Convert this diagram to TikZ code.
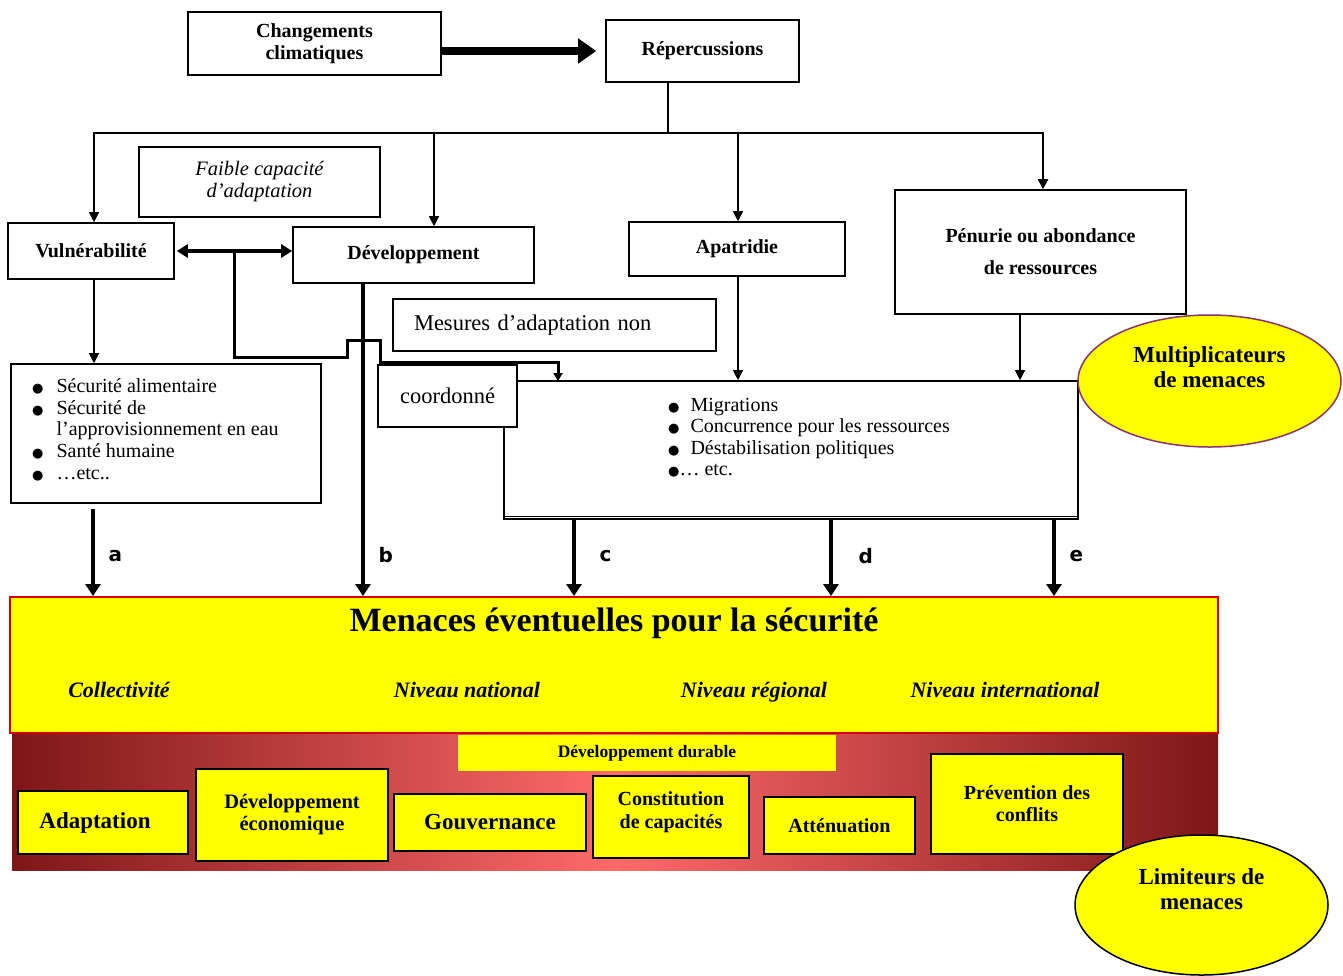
\documentclass[tikz,border=0pt]{standalone}
\usepackage{fontspec}
\setmainfont{Liberation Serif}
\newfontfamily\lblfont{DejaVu Sans}
\newfontfamily\symfont{DejaVu Sans}
\usetikzlibrary{arrows.meta,shapes.geometric,calc}
\definecolor{jaune}{RGB}{255,255,0}
\definecolor{rougefonce}{RGB}{126,22,24}
\definecolor{rougeclair}{RGB}{255,106,106}
\definecolor{violet}{RGB}{140,50,110}
\definecolor{rougebord}{RGB}{215,0,0}
\newcommand{\puce}{{\symfont\fontsize{13}{13}\selectfont ●}}

\begin{document}
\begin{tikzpicture}[
        x=1pt, y=-1pt,
        box/.style={draw, line width=1.6pt, fill=white, align=center, inner sep=0pt,
            font=\bfseries\fontsize{20}{22}\selectfont},
        plain/.style={box, font=\fontsize{22.5}{26}\selectfont},
        list/.style={align=left, inner sep=0pt, font=\fontsize{20}{21.75}\selectfont},
        limbox/.style={draw, line width=2pt, fill=jaune, align=center, inner sep=0pt,
            font=\bfseries\fontsize{20}{23}\selectfont},
        bulle/.style={ellipse, fill=jaune, line width=1.5pt, align=center, inner sep=0pt,
            font=\bfseries\fontsize{23}{25}\selectfont},
        niveau/.style={anchor=base, font=\bfseries\itshape\fontsize{22}{24}\selectfont},
        fin/.style={line width=1.2pt, -{Triangle[length=10pt,width=10pt]}},
        gros/.style={line width=4.5pt, -{Triangle[length=12pt,width=15pt]}},
        lettre/.style={font=\lblfont\bfseries\fontsize{20}{20}\selectfont},
    ]
    \useasboundingbox (0,0) rectangle (1343,975);

    % top part
    \node[box, minimum width=253pt, minimum height=63pt] (clim) at (314.5,43.5) {Changements\\climatiques};
    \node[box, minimum width=193pt, minimum height=62pt] (reperc) at (702.5,51) {Répercussions};
    \node[box, font=\itshape\fontsize{20.5}{22}\selectfont, minimum width=241pt, minimum height=70pt] (faible) at (259.5,182) {Faible capacité\\d’adaptation};
    \node[box, minimum width=166pt, minimum height=56pt] (vuln) at (91,251) {Vulnérabilité};
    \node[box, minimum width=241pt, minimum height=56pt] (devel) at (413.5,255) {Développement};
    \node[box, minimum width=216pt, minimum height=54pt] (apat) at (737,249) {Apatridie};
    \node[box, minimum width=291pt, minimum height=124pt] (penurie) at (1040.5,252) {Pénurie ou abondance\\[10pt]de ressources};

    \draw[line width=7.5pt, -{Triangle[length=18pt,width=24pt]}] (clim.east |- reperc.west) -- ([xshift=-9pt]reperc.west);

    \coordinate (hub) at (668,133);
    \draw[line width=1.2pt] (hub |- reperc.south) -- (hub);
    \draw[fin] (hub) -| ([xshift=3pt]vuln.north);
    \draw[fin, line width=2.2pt] (hub) -| ([xshift=2.5pt]penurie.north);
    \draw[fin] ([xshift=20.5pt]devel.north |- hub) -- ([xshift=20.5pt]devel.north);
    \draw[fin] ([xshift=1pt]apat.north |- hub) -- ([xshift=1pt]apat.north);

    % middle part
    \node[box, draw, minimum width=310pt, minimum height=139pt] (vlist) at (166,433.5) {};
    \node[list, anchor=north west] (vtxt) at (32,377) {%
        \begin{tabular}{@{}l@{\hspace{13pt}}l@{}}
        \puce & Sécurité alimentaire\\
        \puce & Sécurité de\\
              & l’approvisionnement en eau\\
        \puce & Santé humaine\\
        \puce & …etc..
        \end{tabular}};
    \node[box, minimum width=574pt, minimum height=138pt] (migr) at (791,450) {};
    \draw[line width=1.2pt] ([yshift=3pt]migr.south west) -- ([yshift=3pt]migr.south east);
    \node[list, font=\fontsize{20}{21.5}\selectfont, anchor=north west] (mtxt) at (668,396) {%
        \begin{tabular}{@{}l@{\hspace{11pt}}l@{}}
        \puce & Migrations\\
        \puce & Concurrence pour les ressources\\
        \puce & Déstabilisation politiques\\
        \multicolumn{2}{@{}l}{\puce… etc.}
        \end{tabular}};
    \node[plain, minimum width=139pt, minimum height=62pt] (coord) at (447.5,396) {coordonné};
    \node[plain, align=left, text width=281pt, inner xsep=21pt, minimum height=52pt] (mesures) at (554.5,325) {Mesures d’adaptation non};

    \draw[fin] ([xshift=3pt]vuln.south) -- ([xshift=3pt]vuln.south |- vlist.north);
    \draw[line width=3.5pt, {Triangle[length=11pt,width=13pt]}-{Triangle[length=11pt,width=13pt]}] ([xshift=2pt]vuln.east) -- (vuln.east -| devel.west);
    \coordinate (fork) at (234,251);
    \draw[line width=3pt, -{Triangle[length=8pt,width=9pt]}] (fork) |- (347,357) |- (380,340) |- (558,362) -- (558,381);
    \draw[fin] ([xshift=1pt]apat.south) -- ([xshift=1pt]apat.south |- migr.north);
    \draw[fin] ([xshift=-20.5pt]penurie.south) -- ([xshift=-20.5pt]penurie.south |- migr.north);

    \node[bulle, draw=violet, minimum width=263pt, minimum height=132pt] (multi) at (1209.5,381) {Multiplicateurs\\de menaces\\[2pt]};

    % menaces
    \node[draw=rougebord, line width=2pt, fill=jaune, minimum width=1208pt, minimum height=136pt, inner sep=0pt] (main) at (614,665) {};
    \node[font=\bfseries\fontsize{34}{38}\selectfont] (titre) at (614,623) {Menaces éventuelles pour la sécurité};
    \node[niveau] (coll) at (119,697) {Collectivité};
    \node[niveau] (nat) at (467,697) {Niveau national};
    \node[niveau] (reg) at (754,697) {Niveau régional};
    \node[niveau] (inter) at (1005,697) {Niveau international};

    \draw[gros] ([xshift=-73pt,yshift=-5pt]vlist.south) -- ([xshift=-73pt]vlist.south |- main.north) node[lettre, pos=0.54, right=10pt] {a};
    \draw[gros] ([xshift=-50.5pt]devel.south) -- ([xshift=-50.5pt]devel.south |- main.north) node[lettre, pos=0.87, right=10pt] {b};
    \draw[gros] ([xshift=-217pt]migr.south) -- ([xshift=-217pt]migr.south |- main.north) node[lettre, pos=0.47, right=20pt] {c};
    \draw[gros] ([xshift=40pt]migr.south) -- ([xshift=40pt]migr.south |- main.north) node[lettre, pos=0.47, right=22pt] {d};
    \draw[gros] ([xshift=263pt]migr.south) -- ([xshift=263pt]migr.south |- main.north) node[lettre, pos=0.47, right=10pt] {e};

    % limiteurs
    \shade[left color=rougefonce, right color=rougefonce, middle color=rougeclair] (12,734) rectangle (1218,870);
    \node[fill=jaune, minimum width=378pt, minimum height=36pt, inner sep=0pt, font=\bfseries\fontsize{17.5}{20}\selectfont] (durable) at (647,753) {Développement durable};
    \node[limbox, font=\bfseries\fontsize{23}{25}\selectfont, minimum width=170pt, minimum height=63pt] (adapt) at (103,822.5) {\hspace*{-16pt}Adaptation};
    \node[limbox, font=\bfseries\fontsize{20.5}{22}\selectfont, minimum width=192pt, minimum height=92pt] (deveco) at (292,815) {Développement\\économique};
    \node[limbox, font=\bfseries\fontsize{23}{25}\selectfont, minimum width=192pt, minimum height=57pt] (gouv) at (490,822.5) {Gouvernance};
    \node[limbox, minimum width=156pt, minimum height=82pt] (constit) at (671,817) {Constitution\\de capacités\\[-9pt]};
    \node[limbox, minimum width=151pt, minimum height=57pt] (atten) at (839.5,825.5) {Atténuation};
    \node[limbox, font=\bfseries\fontsize{20}{22}\selectfont, minimum width=192pt, minimum height=100pt] (prevent) at (1027,804) {Prévention des\\conflits};
    \node[bulle, draw=black, minimum width=253pt, minimum height=140pt] (limit) at (1201.5,905) {Limiteurs de\\menaces\\[6pt]};
\end{tikzpicture}
\end{document}
